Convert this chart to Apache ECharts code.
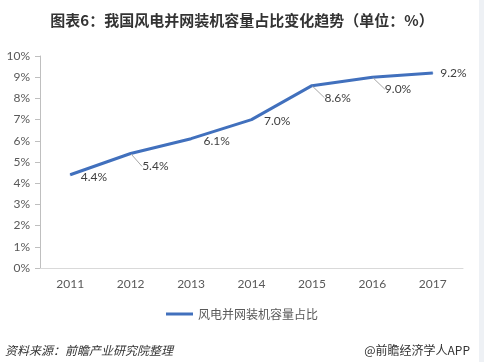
<!DOCTYPE html>
<html>
<head>
<meta charset="utf-8">
<script src="https://cdn.jsdelivr.net/npm/echarts@6/dist/echarts.min.js"></script>
<style>html,body{margin:0;padding:0;background:#fff}#c{width:484px;height:362px}</style>
</head>
<body>
<div id="c"></div>
<script>
var titleText = '图表6：我国风电并网装机容量占比变化趋势（单位：%）';
var sourceText = '资料来源：前瞻产业研究院整理';
var brandText = '@前瞻经济学人APP';
var seriesName = '风电并网装机容量占比';
var years = ['2011', '2012', '2013', '2014', '2015', '2016', '2017'];
var shares = [4.4, 5.4, 6.1, 7.0, 8.6, 9.0, 9.2];
var labelDx = [5, 6, 7, 7, 7, 7, 2];
var labelDy = [2, 13, 2, 2, 12, 12, 0];
var leader = [false, true, false, false, true, true, false];

var font = "Lato, 'Noto Sans CJK SC', sans-serif";
var chart = echarts.init(document.getElementById('c'), null, {renderer: 'canvas'});
chart.setOption({
  backgroundColor: '#ffffff',
  animation: false,
  title: {
    text: titleText,
    left: 'center',
    top: 8,
    textStyle: {fontFamily: "'Noto Sans CJK SC', sans-serif", fontSize: 15, fontWeight: 'bold', color: '#333333'}
  },
  grid: {left: 40, right: 21, top: 56, bottom: 94},
  legend: {
    data: [{name: seriesName, icon: 'rect'}],
    left: 'center',
    top: 303,
    itemWidth: 27,
    itemHeight: 3,
    itemGap: 4,
    textStyle: {fontFamily: "'Noto Sans CJK SC', sans-serif", fontSize: 12, color: '#595959'}
  },
  xAxis: {
    type: 'category',
    data: years,
    boundaryGap: true,
    axisLine: {lineStyle: {color: '#d9d9d9'}},
    axisTick: {show: false},
    axisLabel: {margin: 10, fontFamily: font, fontSize: 12, color: '#595959'},
    splitLine: {show: false}
  },
  yAxis: {
    type: 'value',
    min: 0,
    max: 10,
    interval: 1,
    axisLine: {show: true, lineStyle: {color: '#bfbfbf'}},
    axisTick: {show: true, length: 5, lineStyle: {color: '#bfbfbf'}},
    axisLabel: {margin: 10, fontFamily: font, fontSize: 12, color: '#595959', formatter: '{value}%'},
    splitLine: {show: false}
  },
  series: [{
    name: seriesName,
    type: 'line',
    data: shares.map(function (v, i) {
      return {value: v, labelLine: {show: leader[i]}};
    }),
    symbol: 'circle',
    symbolSize: 1,
    showSymbol: true,
    lineStyle: {color: '#4170bd', width: 3},
    itemStyle: {color: '#4170bd'},
    label: {
      show: true,
      position: 'right',
      distance: 5,
      fontFamily: font,
      fontSize: 12,
      color: '#404040',
      formatter: function (p) { return p.value.toFixed(1) + '%'; }
    },
    labelLine: {show: false, lineStyle: {color: '#a6a6a6', width: 1}},
    labelLayout: function (p) {
      return {dx: labelDx[p.dataIndex], dy: labelDy[p.dataIndex]};
    }
  }],
  graphic: [
    {type: 'text', left: 5, top: 344, style: {text: sourceText, font: "italic 12px 'Noto Sans CJK SC', sans-serif", fill: '#333333'}},
    {type: 'text', right: 14, top: 344, style: {text: brandText, font: "12px 'Noto Sans CJK SC', sans-serif", fill: '#333333'}},
    {type: 'rect', right: 0, top: 0, shape: {width: 5, height: 362}, style: {fill: '#eef1f5'}}
  ]
});
</script>
</body>
</html>
